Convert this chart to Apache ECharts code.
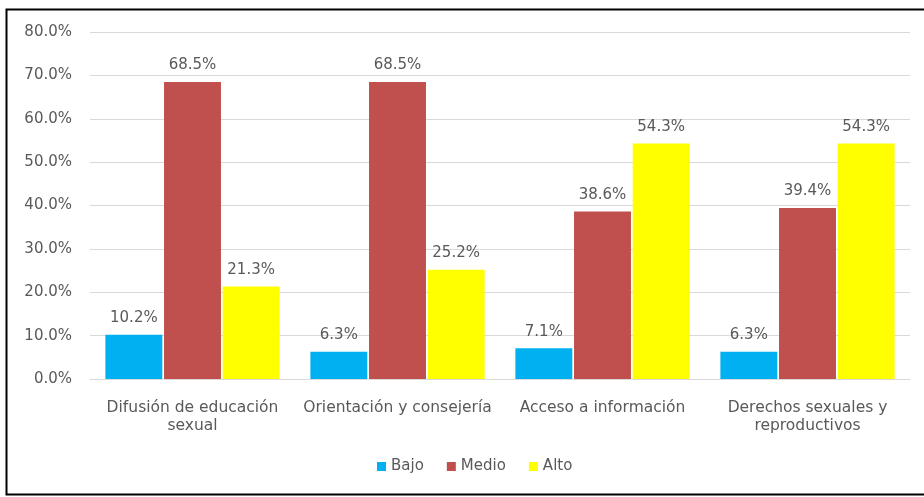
<!DOCTYPE html>
<html>
<head>
<meta charset="utf-8">
<script src="https://cdn.jsdelivr.net/npm/echarts@6/dist/echarts.min.js"></script>
<style>
  html, body { margin: 0; padding: 0; background: #fff; }
  #chart { width: 924px; height: 497px; }
</style>
</head>
<body>
<div id="chart"></div>
<script>
// Dimensions evaluated, by level
const categories = [
  'Difusión de educación\nsexual',
  'Orientación y consejería',
  'Acceso a información',
  'Derechos sexuales y\nreproductivos'
];
const bajo = [10.2, 6.3, 7.1, 6.3];
const medio = [68.5, 68.5, 38.6, 39.4];
const alto = [21.3, 25.2, 54.3, 54.3];
const yTicks = { min: 0, max: 80, interval: 10 };

const textColor = '#595959';
const fontFamily = '"DejaVu Sans", "Noto Sans", sans-serif';

function makeSeries(name, data, color) {
  return {
    name: name,
    type: 'bar',
    data: data,
    barGap: '3%',
    barCategoryGap: '15%',
    itemStyle: { color: color },
    label: {
      show: true,
      position: 'top',
      distance: 9,
      color: textColor,
      fontSize: 15,
      fontFamily: fontFamily,
      formatter: p => p.value.toFixed(1) + '%'
    }
  };
}

const chart = echarts.init(document.getElementById('chart'), null, { renderer: 'canvas' });
chart.setOption({
  animation: false,
  backgroundColor: '#ffffff',
  textStyle: { fontFamily: fontFamily },
  grid: { left: 90, right: 14, top: 32, bottom: 118 },
  legend: {
    bottom: 18,
    left: 372,
    itemWidth: 9,
    itemHeight: 9,
    itemGap: 23,
    icon: 'rect',
    textStyle: { color: textColor, fontSize: 15, fontFamily: fontFamily },
    data: ['Bajo', 'Medio', 'Alto']
  },
  xAxis: {
    type: 'category',
    data: categories,
    axisLine: { lineStyle: { color: '#d9d9d9' } },
    axisTick: { show: false },
    axisLabel: {
      color: textColor,
      fontSize: 15.5,
      fontFamily: fontFamily,
      margin: 20,
      lineHeight: 18,
      interval: 0
    }
  },
  yAxis: {
    type: 'value',
    min: yTicks.min,
    max: yTicks.max,
    interval: yTicks.interval,
    axisLine: { show: false },
    axisTick: { show: false },
    splitLine: { lineStyle: { color: '#d9d9d9' } },
    axisLabel: {
      color: textColor,
      fontSize: 15,
      fontFamily: fontFamily,
      margin: 18,
      formatter: v => v.toFixed(1) + '%'
    }
  },
  series: [
    makeSeries('Bajo', bajo, '#00b0f0'),
    makeSeries('Medio', medio, '#c0504d'),
    makeSeries('Alto', alto, '#ffff00')
  ],
  graphic: [{
    type: 'rect',
    shape: { x: 6.5, y: 9.5, width: 940, height: 485 },
    style: { fill: null, stroke: '#000', lineWidth: 2 },
    silent: true
  }]
});
</script>
</body>
</html>
